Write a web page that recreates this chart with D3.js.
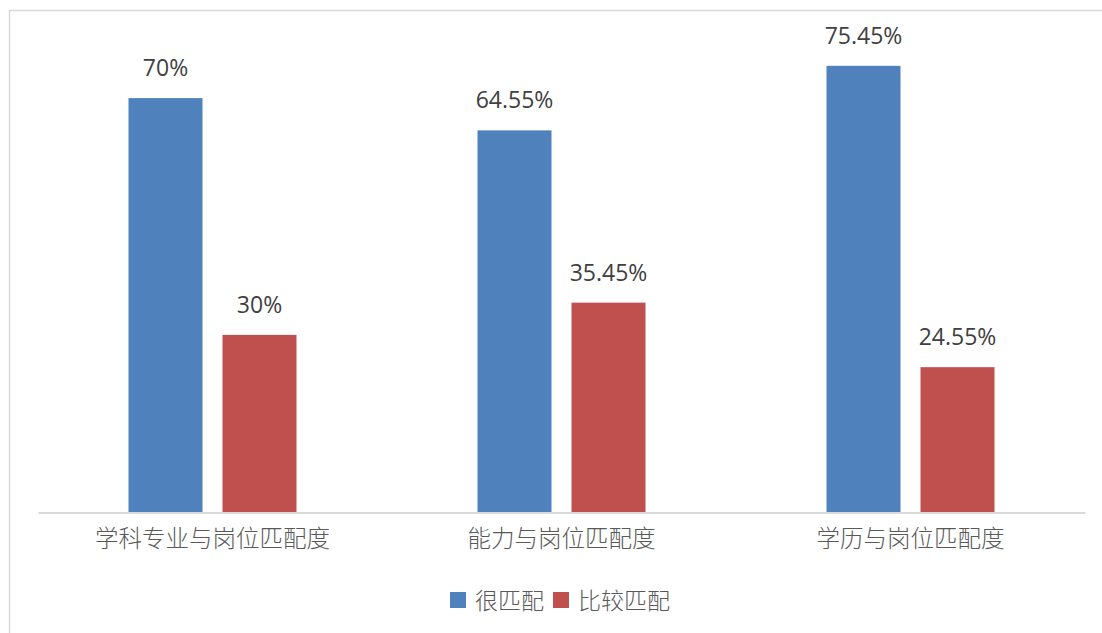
<!DOCTYPE html>
<html>
<head>
<meta charset="utf-8">
<script src="https://cdn.jsdelivr.net/npm/d3@7"></script>
<style>
  body { margin: 0; background: #fff; }
  text { font-family: "Open Sans", "Noto Sans CJK SC", sans-serif; }
</style>
</head>
<body>
<div id="chart"></div>
<script>
// data
var categories = ["学科专业与岗位匹配度", "能力与岗位匹配度", "学历与岗位匹配度"];
var seriesNames = ["很匹配", "比较匹配"];
var veryMatch = [70, 64.55, 75.45];
var fairMatch = [30, 35.45, 24.55];
var labelsVery = ["70%", "64.55%", "75.45%"];
var labelsFair = ["30%", "35.45%", "24.55%"];
var colors = ["#4F81BD", "#C0504D"];

var width = 1102, height = 633;

var svg = d3.select("#chart").append("svg")
    .attr("width", width)
    .attr("height", height);

// frame (only top/left edges visible in the picture)
svg.append("rect")
    .attr("x", 9.5).attr("y", 10.5)
    .attr("width", width + 20).attr("height", height + 20)
    .attr("fill", "none")
    .attr("stroke", "#d9d9d9")
    .attr("stroke-width", 1.5);

var x0 = d3.scaleBand()
    .domain(categories)
    .range([38, 1085])
    .paddingInner(0).paddingOuter(0);

// two bars of 74px with a 20px gap
var x1 = d3.scaleBand()
    .domain(seriesNames)
    .range([0, 168])
    .paddingInner(20 / 94)
    .paddingOuter(0);

var y = d3.scaleLinear()
    .domain([0, 80])
    .range([512.5, 512.5 - 80 * 5.92]);

var rows = categories.map(function(c, i) {
    return {
        cat: c,
        vals: [
            { s: seriesNames[0], v: veryMatch[i], label: labelsVery[i], color: colors[0] },
            { s: seriesNames[1], v: fairMatch[i], label: labelsFair[i], color: colors[1] }
        ]
    };
});

var off = (x0.bandwidth() - 168) / 2;

var groups = svg.append("g").selectAll("g")
    .data(rows)
    .enter().append("g")
    .attr("transform", function(d) { return "translate(" + (x0(d.cat) + off) + ",0)"; });

groups.selectAll("rect")
    .data(function(d) { return d.vals; })
    .enter().append("rect")
    .attr("x", function(d) { return x1(d.s); })
    .attr("y", function(d) { return y(d.v); })
    .attr("width", x1.bandwidth())
    .attr("height", function(d) { return y(0) - y(d.v); })
    .attr("fill", function(d) { return d.color; });

groups.selectAll("text")
    .data(function(d) { return d.vals; })
    .enter().append("text")
    .attr("x", function(d) { return x1(d.s) + x1.bandwidth() / 2; })
    .attr("y", function(d) { return y(d.v) - 22; })
    .attr("text-anchor", "middle")
    .attr("font-size", "23px")
    .attr("fill", "#404040")
    .text(function(d) { return d.label; });

// x axis line + category labels
var xAxis = d3.axisBottom(x0).tickSize(0).tickPadding(18);
var ax = svg.append("g")
    .attr("transform", "translate(0," + y(0) + ")")
    .call(xAxis);
ax.select(".domain").attr("stroke", "#d9d9d9").attr("stroke-width", 2);
ax.selectAll("text")
    .attr("font-size", "23.5px")
    .attr("font-family", "'Noto Sans CJK SC', sans-serif")
    .attr("font-weight", 300)
    .attr("fill", "#595959");

// legend
var legend = svg.append("g");
var legendItems = [
    { name: seriesNames[0], color: colors[0], x: 450 },
    { name: seriesNames[1], color: colors[1], x: 553 }
];
legendItems.forEach(function(it) {
    legend.append("rect")
        .attr("x", it.x).attr("y", 592)
        .attr("width", 16).attr("height", 16)
        .attr("fill", it.color);
    legend.append("text")
        .attr("x", it.x + 25).attr("y", 601)
        .attr("dy", "0.35em")
        .attr("font-size", "23px")
        .attr("font-family", "'Noto Sans CJK SC', sans-serif")
        .attr("font-weight", 300)
        .attr("fill", "#595959")
        .text(it.name);
});
</script>
</body>
</html>
